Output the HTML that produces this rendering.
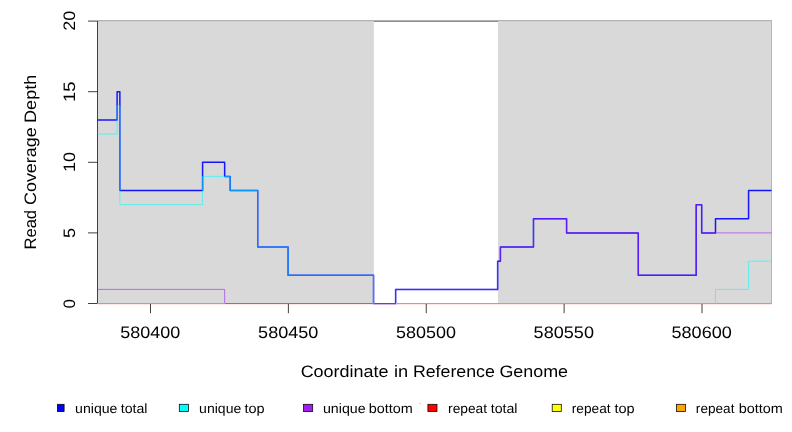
<!DOCTYPE html>
<html><head><meta charset="utf-8"><title>coverage</title>
<style>html,body{margin:0;padding:0;background:#fff}svg{display:block}svg text{font-family:"Liberation Sans",sans-serif;fill:#000;text-rendering:geometricPrecision}</style></head><body>
<svg width="792" height="432" viewBox="0 0 792 432">
<rect width="792" height="432" fill="#fff"/>
<g fill="none" stroke="#000" stroke-width="0.75">
<path d="M97.5 303.5 V21.1 H772"/>
<path d="M88 303.50 H97.5"/>
<path d="M88 232.90 H97.5"/>
<path d="M88 162.30 H97.5"/>
<path d="M88 91.70 H97.5"/>
<path d="M88 21.10 H97.5"/>
<path d="M150.50 303.5 V313.2"/>
<path d="M288.38 303.5 V313.2"/>
<path d="M426.25 303.5 V313.2"/>
<path d="M564.12 303.5 V313.2"/>
<path d="M702.00 303.5 V313.2"/>
</g>
<rect x="98.1" y="21.1" width="275.76" height="282.40" fill="#d9d9d9"/>
<rect x="497.94" y="21.1" width="274.06" height="282.40" fill="#d9d9d9"/>
<rect x="771" y="20" width="1" height="284" fill="#b6b6b6"/>
<g fill="none" stroke-linejoin="round" stroke-linecap="butt">
<clipPath id="cp"><rect x="97" y="0" width="675" height="303"/></clipPath>
<g clip-path="url(#cp)">
<path d="M97.50 119.94 H117.11 V91.70 H119.87 V190.54 H202.59 V162.30 H224.65 V176.42 H230.17 V190.54 H257.74 V247.02 H288.07 V275.26 H373.56 V304.30 H395.62 V289.38 H497.64 V261.14 H500.40 V247.02 H533.49 V218.78 H566.58 V232.90 H638.28 V275.26 H696.19 V204.66 H701.70 V232.90 H715.49 V218.78 H748.58 V190.54 H771.50" stroke="#0000ff" stroke-width="1.5" opacity="0.9"/>
<path d="M97.50 134.06 H117.11 V105.82 H119.87 V204.66 H202.59 V176.42 H230.17 V190.54 H257.74 V247.02 H288.07 V275.26 H373.56 V303.50 H715.49 V289.38 H748.58 V261.14 H771.50" stroke="#00ffff" stroke-width="0.75" opacity="0.78"/>
<path d="M97.50 289.38 H224.65 V303.50 H395.62 V289.38 H497.64 V261.14 H500.40 V247.02 H533.49 V218.78 H566.58 V232.90 H638.28 V275.26 H696.19 V204.66 H701.70 V232.90 H771.50" stroke="#a020f0" stroke-width="0.75" opacity="0.8"/>
</g>
<path d="M97.5 304.5 H771.5" stroke="#ff0000" stroke-width="1" opacity="0.1"/>
<path d="M372.86 304.5 H396.42" stroke="#0000ff" stroke-width="1" opacity="0.2"/>
<path d="M97.50 303.5 H224.65" stroke="#ff9800" stroke-width="1"/>
<path d="M224.65 303.5 H373.56" stroke="#cd557d" stroke-width="1"/>
<path d="M373.56 303.5 H396.22" stroke="#5040ff" stroke-width="1"/>
<path d="M396.22 303.5 H715.49" stroke="#73c887" stroke-width="1"/>
<path d="M715.49 303.5 H771.50" stroke="#ff9800" stroke-width="1"/>
</g>
<rect x="419" y="403" width="2" height="1" fill="#d6d6d6"/>
<g opacity="0.999">
<text x="120.27" y="337.70" font-size="16.6" textLength="59.96" lengthAdjust="spacingAndGlyphs">580400</text>
<text x="258.10" y="337.70" font-size="16.6" textLength="60.32" lengthAdjust="spacingAndGlyphs">580450</text>
<text x="395.93" y="337.70" font-size="16.6" textLength="60.02" lengthAdjust="spacingAndGlyphs">580500</text>
<text x="533.64" y="337.70" font-size="16.6" textLength="60.32" lengthAdjust="spacingAndGlyphs">580550</text>
<text x="671.48" y="337.70" font-size="16.6" textLength="60.34" lengthAdjust="spacingAndGlyphs">580600</text>
<text transform="translate(74.95 308.46) rotate(-90)" font-size="16.6" textLength="9.55" lengthAdjust="spacingAndGlyphs">0</text>
<text transform="translate(74.95 238.02) rotate(-90)" font-size="16.6" textLength="10.06" lengthAdjust="spacingAndGlyphs">5</text>
<text transform="translate(74.95 171.92) rotate(-90)" font-size="16.6" textLength="20.03" lengthAdjust="spacingAndGlyphs">10</text>
<text transform="translate(74.95 102.01) rotate(-90)" font-size="16.6" textLength="20.35" lengthAdjust="spacingAndGlyphs">15</text>
<text transform="translate(74.95 30.76) rotate(-90)" font-size="16.6" textLength="20.03" lengthAdjust="spacingAndGlyphs">20</text>
<text x="300.65" y="377.40" font-size="16.6" textLength="87.81" lengthAdjust="spacingAndGlyphs">Coordinate</text>
<text x="393.93" y="377.40" font-size="16.6" textLength="14.20" lengthAdjust="spacingAndGlyphs">in</text>
<text x="412.94" y="377.40" font-size="16.6" textLength="81.84" lengthAdjust="spacingAndGlyphs">Reference</text>
<text x="499.42" y="377.40" font-size="16.6" textLength="68.62" lengthAdjust="spacingAndGlyphs">Genome</text>
<text transform="translate(36.10 249.51) rotate(-90)" font-size="16.6" textLength="39.56" lengthAdjust="spacingAndGlyphs">Read</text>
<text transform="translate(36.10 204.97) rotate(-90)" font-size="16.6" textLength="77.61" lengthAdjust="spacingAndGlyphs">Coverage</text>
<text transform="translate(36.10 122.93) rotate(-90)" font-size="16.6" textLength="48.17" lengthAdjust="spacingAndGlyphs">Depth</text>
<text x="75.07" y="412.70" font-size="13.5" textLength="42.41" lengthAdjust="spacingAndGlyphs">unique</text>
<text x="120.69" y="412.70" font-size="13.5" textLength="26.81" lengthAdjust="spacingAndGlyphs">total</text>
<text x="199.13" y="412.70" font-size="13.5" textLength="42.16" lengthAdjust="spacingAndGlyphs">unique</text>
<text x="244.48" y="412.70" font-size="13.5" textLength="20.17" lengthAdjust="spacingAndGlyphs">top</text>
<text x="322.93" y="412.70" font-size="13.5" textLength="42.68" lengthAdjust="spacingAndGlyphs">unique</text>
<text x="368.80" y="412.70" font-size="13.5" textLength="44.07" lengthAdjust="spacingAndGlyphs">bottom</text>
<text x="448.05" y="412.70" font-size="13.5" textLength="39.06" lengthAdjust="spacingAndGlyphs">repeat</text>
<text x="490.69" y="412.70" font-size="13.5" textLength="26.81" lengthAdjust="spacingAndGlyphs">total</text>
<text x="571.82" y="412.70" font-size="13.5" textLength="38.84" lengthAdjust="spacingAndGlyphs">repeat</text>
<text x="614.45" y="412.70" font-size="13.5" textLength="20.22" lengthAdjust="spacingAndGlyphs">top</text>
<text x="695.86" y="412.70" font-size="13.5" textLength="38.55" lengthAdjust="spacingAndGlyphs">repeat</text>
<text x="738.67" y="412.70" font-size="13.5" textLength="44.15" lengthAdjust="spacingAndGlyphs">bottom</text>
<svg x="57" y="400" width="20" height="20" viewBox="57 400 20 20"><rect x="55.00" y="404.3" width="9.1" height="7.3" fill="#0000ff" stroke="#000" stroke-width="0.75"/></svg>
<rect x="179.30" y="404.3" width="9.1" height="7.3" fill="#00ffff" stroke="#000" stroke-width="0.75"/>
<rect x="303.60" y="404.3" width="9.1" height="7.3" fill="#a020f0" stroke="#000" stroke-width="0.75"/>
<rect x="427.90" y="404.3" width="9.1" height="7.3" fill="#ff0000" stroke="#000" stroke-width="0.75"/>
<rect x="552.20" y="404.3" width="9.1" height="7.3" fill="#ffff00" stroke="#000" stroke-width="0.75"/>
<rect x="676.50" y="404.3" width="9.1" height="7.3" fill="#ffa500" stroke="#000" stroke-width="0.75"/>
</g>
</svg></body></html>
